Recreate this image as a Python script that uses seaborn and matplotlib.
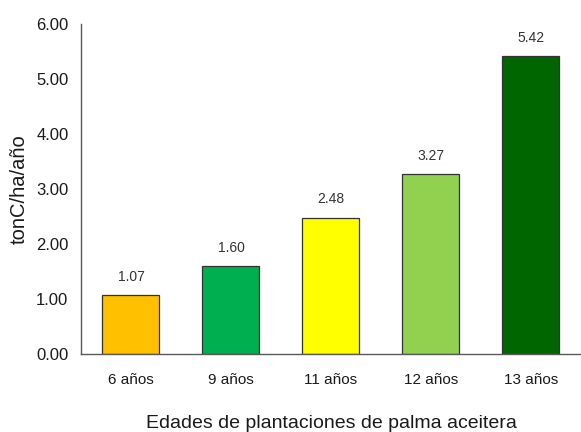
import matplotlib
matplotlib.use("Agg")
import matplotlib.pyplot as plt
import seaborn as sns
import pandas as pd

categories = ["6 años", "9 años", "11 años", "12 años", "13 años"]
values = [1.07, 1.60, 2.48, 3.27, 5.42]
colors = ["#FFC000", "#00B050", "#FFFF00", "#92D050", "#006600"]
yticks = [0, 1, 2, 3, 4, 5, 6]

sns.set_theme(style="white")
plt.rcParams["font.family"] = ["Liberation Sans", "DejaVu Sans"]

df = pd.DataFrame({"edad": categories, "val": values})

fig = plt.figure(figsize=(5.81, 4.32), dpi=100)
ax = fig.add_axes([0.1394, 0.1806, 0.8606, 0.7639])
sns.barplot(data=df, x="edad", y="val", hue="edad", palette=colors, legend=False,
            width=0.57, edgecolor="#333333", linewidth=0.9, ax=ax, saturation=1)

ax.set_ylim(0, 6)
ax.set_xlim(-0.5, 4.5)
ax.set_yticks(yticks)
ax.set_yticklabels([f"{v:.2f}" for v in yticks], fontsize=12, color="#1a1a1a")
ax.tick_params(axis="x", labelsize=11, colors="#1a1a1a", pad=14, length=0)
ax.tick_params(axis="y", length=0, pad=9)
for s in ["top", "right"]:
    ax.spines[s].set_visible(False)
for s in ["left", "bottom"]:
    ax.spines[s].set_color("#595959")
    ax.spines[s].set_linewidth(1.0)

for c in ax.containers:
    ax.bar_label(c, labels=[f"{v:.2f}" for v in c.datavalues], padding=8,
                 fontsize=10, color="#333333")

ax.set_xlabel("Edades de plantaciones de palma aceitera", fontsize=14, labelpad=20, color="#1a1a1a")
ax.set_ylabel("tonC/ha/año", fontsize=14.5, labelpad=5, color="#1a1a1a")

fig.savefig("out.png", dpi=100)
